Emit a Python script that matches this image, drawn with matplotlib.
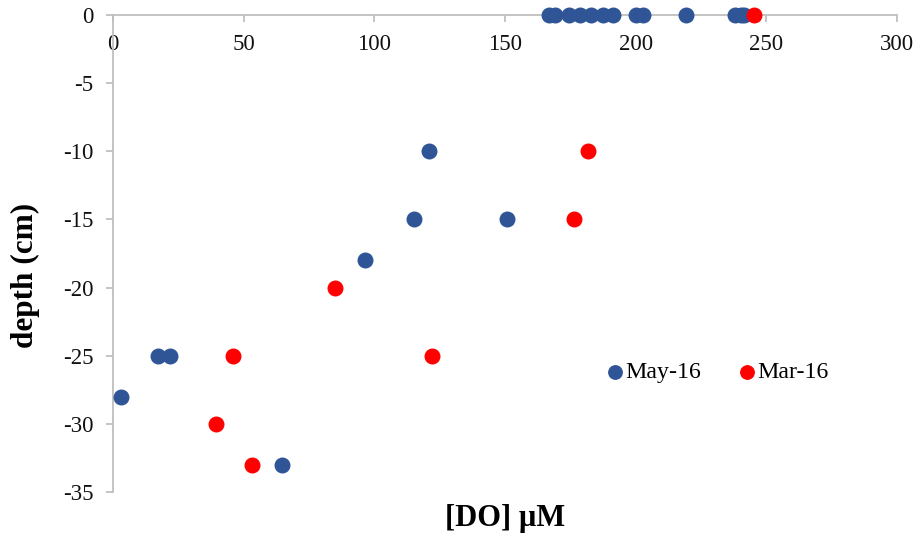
import matplotlib.pyplot as plt
import numpy as np

plt.rcParams['font.family'] = ['Liberation Serif', 'DejaVu Serif']
plt.rcParams['axes.unicode_minus'] = False

# dissolved oxygen profiles, May 2016
may_do = [166.9, 169.2, 174.5, 178.7, 182.9, 187.5, 191.3, 200.2, 202.8, 219.3,
          238.0, 240.3, 241.5, 120.9, 115.2, 150.8, 96.4, 17.2, 21.8, 3.1, 64.7]
may_depth = [0, 0, 0, 0, 0, 0, 0, 0, 0, 0,
             0, 0, 0, -10, -15, -15, -18, -25, -25, -28, -33]

# March 2016
mar_do = [245.3, 181.8, 176.4, 85.0, 45.9, 122.1, 39.4, 53.2]
mar_depth = [0, -10, -15, -20, -25, -25, -30, -33]

fig = plt.figure(figsize=(9.22, 5.4), dpi=100)
ax = fig.add_axes([113/922, 1 - 492/540, (897-113)/922, (492-15)/540])

ax.scatter(may_do, may_depth, s=110, color='#2f5597', label='May-16', zorder=3, clip_on=False)
ax.scatter(mar_do, mar_depth, s=110, color='#ff0000', label='Mar-16', zorder=3, clip_on=False)

ax.set_xlim(0, 300)
ax.set_ylim(-35, 0)
ax.set_xticks(np.arange(0, 301, 50))
ax.set_yticks(np.arange(-35, 1, 5))

# x axis crosses at depth 0, labels hang below it
ax.spines['bottom'].set_position(('data', 0))
ax.spines['top'].set_visible(False)
ax.spines['right'].set_visible(False)
for s in ['bottom', 'left']:
    ax.spines[s].set_color('#bfbfbf')
    ax.spines[s].set_linewidth(1.3)
ax.tick_params(axis='both', colors='#bfbfbf', length=5, width=1.3, direction='out',
               labelcolor='#111111', labelsize=16.5)
ax.tick_params(axis='x', pad=8.5)
ax.tick_params(axis='y', pad=9)

ax.text(0.5, -0.056, '[DO] µM', transform=ax.transAxes, ha='center', va='center',
        fontsize=22, fontweight='bold')
ax.text(-0.112, 0.455, 'depth (cm)', transform=ax.transAxes, ha='center', va='center',
        rotation=90, fontsize=22.5, fontweight='bold')

ax.legend(loc='center left', bbox_to_anchor=(0.631, 0.2516), ncol=2, frameon=False,
          fontsize=17.2, handlelength=0.6, handletextpad=0.15, columnspacing=1.6,
          borderaxespad=0, borderpad=0, markerscale=0.92)

fig.savefig('out.png', dpi=100)
